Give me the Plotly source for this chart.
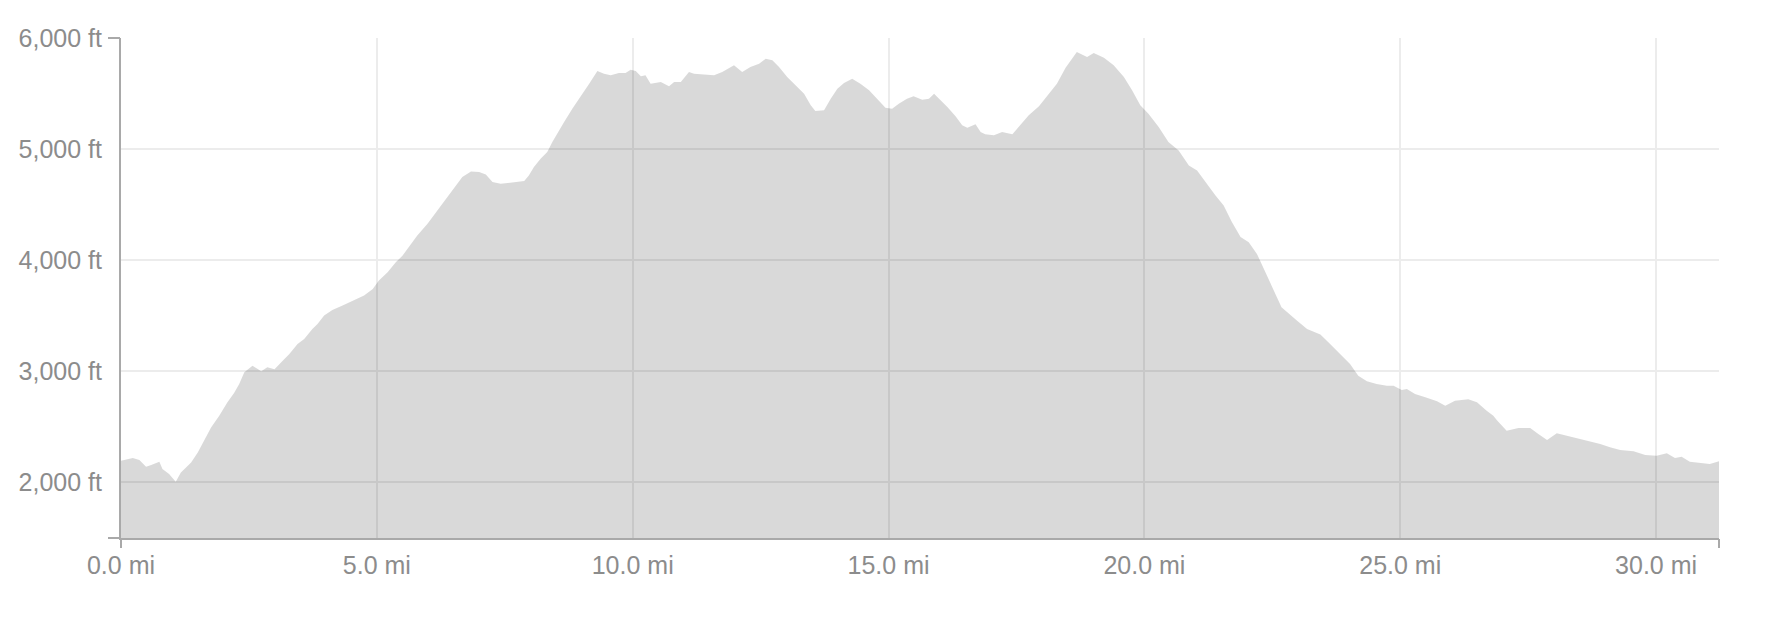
import plotly.graph_objects as go

# distance along the route (mi) and elevation (ft)
MILES = [
    0.00, 0.23, 0.36, 0.49, 0.59, 0.75, 0.81, 0.94, 1.07, 1.17,
    1.37, 1.50, 1.63, 1.76, 1.92, 2.08, 2.21, 2.31, 2.41, 2.57,
    2.64, 2.74, 2.86, 3.00, 3.16, 3.29, 3.45, 3.58, 3.74, 3.84,
    3.97, 4.13, 4.33, 4.52, 4.75, 4.92, 5.04, 5.21, 5.37, 5.50,
    5.60, 5.79, 5.99, 6.18, 6.38, 6.51, 6.67, 6.84, 7.00, 7.13,
    7.26, 7.42, 7.55, 7.71, 7.88, 7.97, 8.07, 8.20, 8.33, 8.43,
    8.56, 8.66, 8.82, 8.98, 9.15, 9.31, 9.44, 9.57, 9.73, 9.86,
    9.96, 10.06, 10.16, 10.25, 10.35, 10.55, 10.71, 10.81, 10.94, 11.10,
    11.20, 11.33, 11.59, 11.75, 11.98, 12.14, 12.30, 12.47, 12.60, 12.73,
    12.86, 13.02, 13.22, 13.35, 13.48, 13.57, 13.74, 13.87, 14.00, 14.13,
    14.29, 14.45, 14.62, 14.78, 14.94, 15.07, 15.20, 15.36, 15.49, 15.66,
    15.79, 15.89, 16.02, 16.15, 16.31, 16.44, 16.54, 16.70, 16.80, 16.89,
    17.06, 17.22, 17.42, 17.58, 17.74, 17.94, 18.13, 18.29, 18.46, 18.59,
    18.68, 18.88, 19.01, 19.21, 19.40, 19.60, 19.76, 19.92, 20.08, 20.28,
    20.47, 20.67, 20.87, 21.03, 21.19, 21.39, 21.55, 21.71, 21.88, 22.04,
    22.20, 22.33, 22.49, 22.59, 22.68, 22.81, 22.98, 23.18, 23.44, 23.63,
    23.83, 24.02, 24.18, 24.35, 24.54, 24.74, 24.87, 25.03, 25.13, 25.29,
    25.49, 25.72, 25.88, 26.07, 26.33, 26.50, 26.69, 26.82, 26.89, 27.08,
    27.31, 27.54, 27.70, 27.87, 28.06, 28.26, 28.45, 28.68, 28.91, 29.10,
    29.30, 29.56, 29.79, 30.01, 30.21, 30.37, 30.50, 30.66, 30.86, 31.05,
    31.23,
]
ELEVATION_FT = [
    2195, 2219, 2201, 2141, 2156, 2186, 2120, 2075, 2006, 2090,
    2180, 2270, 2381, 2495, 2600, 2721, 2805, 2886, 2991, 3051,
    3030, 3000, 3036, 3018, 3096, 3156, 3246, 3291, 3381, 3426,
    3502, 3553, 3592, 3631, 3682, 3742, 3817, 3892, 3982, 4040,
    4102, 4222, 4328, 4448, 4568, 4658, 4748, 4799, 4793, 4772,
    4703, 4688, 4694, 4703, 4712, 4763, 4838, 4913, 4973, 5063,
    5168, 5244, 5364, 5469, 5589, 5703, 5679, 5664, 5685, 5685,
    5715, 5703, 5655, 5664, 5589, 5604, 5565, 5604, 5604, 5694,
    5679, 5673, 5664, 5694, 5754, 5694, 5739, 5769, 5814, 5799,
    5739, 5649, 5559, 5499, 5394, 5343, 5349, 5454, 5544, 5595,
    5634, 5589, 5529, 5454, 5373, 5364, 5409, 5454, 5475, 5445,
    5454, 5499, 5439, 5379, 5295, 5214, 5193, 5223, 5154, 5133,
    5124, 5154, 5133, 5214, 5304, 5385, 5499, 5589, 5733, 5814,
    5874, 5829, 5865, 5823, 5754, 5649, 5529, 5394, 5319, 5199,
    5063, 4988, 4853, 4808, 4703, 4583, 4493, 4343, 4208, 4162,
    4057, 3922, 3757, 3667, 3577, 3523, 3457, 3382, 3331, 3247,
    3150, 3066, 2961, 2910, 2886, 2871, 2871, 2832, 2841, 2796,
    2766, 2730, 2691, 2736, 2748, 2721, 2646, 2601, 2560, 2466,
    2490, 2490, 2436, 2382, 2442, 2421, 2400, 2370, 2346, 2316,
    2292, 2280, 2247, 2241, 2262, 2220, 2232, 2187, 2175, 2166,
    2190,
]

Y_MIN, Y_MAX = 1500, 6000
X_TICK_STEP = 5
Y_TICK_STEP = 1000

AXIS_COLOR = "#a9a9a9"
LABEL_COLOR = "#8c8c8c"
GRID_COLOR = "#ececec"
FONT = dict(family="Liberation Sans, Arial, sans-serif", size=25, color=LABEL_COLOR)

fig = go.Figure()

# semi-transparent fill so gridlines show darker inside the area
fig.add_trace(
    go.Scatter(
        x=MILES,
        y=ELEVATION_FT,
        mode="lines",
        fill="tozeroy",
        fillcolor="rgba(0,0,0,0.149)",
        line=dict(width=0, color="rgba(0,0,0,0)"),
        hoverinfo="skip",
        showlegend=False,
    )
)
# invisible copy on the overlay axes that carry the outer end ticks
fig.add_trace(
    go.Scatter(
        x=MILES,
        y=ELEVATION_FT,
        mode="lines",
        line=dict(width=0, color="rgba(0,0,0,0)"),
        xaxis="x2",
        yaxis="y2",
        hoverinfo="skip",
        showlegend=False,
    )
)

x_range = [0, MILES[-1]]
y_range = [Y_MIN, Y_MAX]

fig.update_layout(
    width=1766,
    height=626,
    margin=dict(l=121, r=47, t=38, b=88),
    paper_bgcolor="white",
    plot_bgcolor="white",
    font=FONT,
    xaxis=dict(
        range=x_range,
        tick0=0,
        dtick=X_TICK_STEP,
        tickformat=".1f",
        ticksuffix=" mi",
        ticks="",
        ticklabelstandoff=4,
        showgrid=True,
        gridcolor=GRID_COLOR,
        gridwidth=2,
        zeroline=False,
        showline=True,
        linecolor=AXIS_COLOR,
        linewidth=2,
        fixedrange=True,
    ),
    yaxis=dict(
        range=y_range,
        tick0=0,
        dtick=Y_TICK_STEP,
        tickformat=",d",
        ticksuffix=" ft",
        ticks="",
        ticklabelstandoff=12,
        showgrid=True,
        gridcolor=GRID_COLOR,
        gridwidth=2,
        zeroline=False,
        showline=True,
        linecolor=AXIS_COLOR,
        linewidth=2,
        fixedrange=True,
    ),
    xaxis2=dict(
        overlaying="x",
        anchor="y",
        range=x_range,
        tickmode="array",
        tickvals=x_range,
        ticks="outside",
        ticklen=9,
        tickwidth=2,
        tickcolor=AXIS_COLOR,
        showticklabels=False,
        showgrid=False,
        zeroline=False,
        showline=False,
        fixedrange=True,
    ),
    yaxis2=dict(
        overlaying="y",
        anchor="x",
        side="left",
        range=y_range,
        tickmode="array",
        tickvals=y_range,
        ticks="outside",
        ticklen=12,
        tickwidth=2,
        tickcolor=AXIS_COLOR,
        showticklabels=False,
        showgrid=False,
        zeroline=False,
        showline=False,
        fixedrange=True,
    ),
)

# drop the default page margin so the figure sits at the window origin
fig.write_html(
    "out.html",
    config={"displayModeBar": False},
    post_script="document.body.style.margin = '0';",
)
